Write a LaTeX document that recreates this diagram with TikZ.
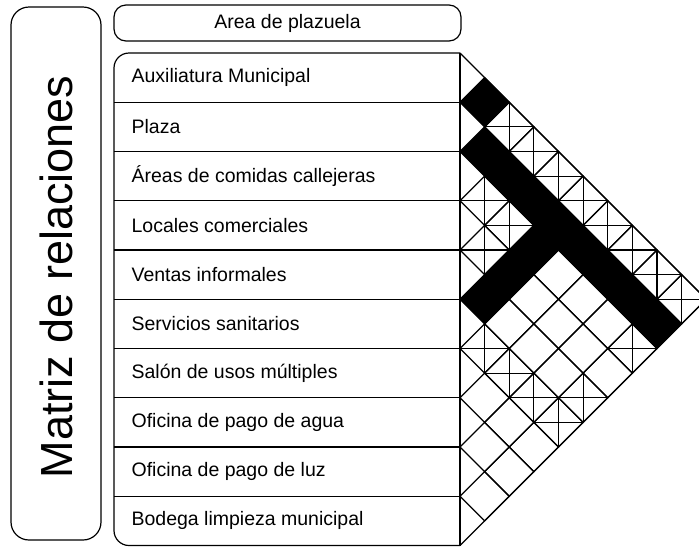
\documentclass[tikz,border=0pt]{standalone}
\usepackage{fontspec}
\setmainfont{Liberation Sans}
\begin{document}
\begin{tikzpicture}[x=1pt,y=-1pt,line width=1.2pt,
  lbl/.style={anchor=west,inner sep=0pt,font=\fontsize{19.5}{22}\selectfont},
  boxline/.style={draw=black,line width=1.2pt}]
\useasboundingbox (0,0) rectangle (699,547);
\def\u{24.625}
% left title box
\draw[boxline,rounded corners=18pt] (11,7) rectangle (101,540);
\node[rotate=90,inner sep=0pt,font=\fontsize{45}{50}\selectfont] (title) at (56,277) {Matriz de relaciones};
% top box
\draw[boxline,rounded corners=12pt] (114,5) rectangle (461,41);
\node[inner sep=0pt,font=\fontsize{19.5}{22}\selectfont] (area) at (287.5,23) {Area de plazuela};
% table
\draw[boxline,rounded corners=15pt] (460,53) -- (114,53) -- (114,545.5) -- (460,545.5);
\draw[boxline] (460,53) -- (460,545.5);
\foreach \k in {1,...,9} {
  \draw[boxline] (114,53+2*\k*\u) -- (460,53+2*\k*\u);
}
\foreach \t [count=\i] in {Auxiliatura Municipal,Plaza,Áreas de comidas callejeras,Locales comerciales,Ventas informales,Servicios sanitarios,Salón de usos múltiples,Oficina de pago de agua,Oficina de pago de luz,Bodega limpieza municipal} {
  \node[lbl] (r\i) at (131,53+2*\i*\u-\u) {\t};
}
% black cells
\foreach \i/\j in {1/2,2/3,2/4,2/5,2/6,2/7,2/8,2/9,2/10,3/6,4/6,5/6} {
  \pgfmathsetmacro\cx{460+(\j-\i)*\u}
  \pgfmathsetmacro\cy{53+(\i+\j-1)*\u}
  \fill[black] (\cx-\u,\cy) -- (\cx,\cy-\u) -- (\cx+\u,\cy) -- (\cx,\cy+\u) -- cycle;
}
% all diamond outlines
\foreach \i in {1,...,9} {
  \pgfmathtruncatemacro\ii{\i+1}
  \foreach \j in {\ii,...,10} {
    \pgfmathsetmacro\cx{460+(\j-\i)*\u}
    \pgfmathsetmacro\cy{53+(\i+\j-1)*\u}
    \draw (\cx-\u,\cy) -- (\cx,\cy-\u) -- (\cx+\u,\cy) -- (\cx,\cy+\u) -- cycle;
  }
}
% crossed cells
\foreach \i/\j in {1/3,1/4,1/5,1/6,1/7,1/8,1/9,1/10,3/4,3/5,3/10,4/5,5/10,6/7,6/8,6/9,6/10} {
  \pgfmathsetmacro\cx{460+(\j-\i)*\u}
  \pgfmathsetmacro\cy{53+(\i+\j-1)*\u}
  \draw (\cx-\u,\cy) -- (\cx+\u,\cy);
  \draw (\cx,\cy-\u) -- (\cx,\cy+\u);
}
% outer triangle
\draw[line join=miter] (460,53) -- (460+10*\u,53+10*\u) -- (460,545.5);
\end{tikzpicture}
\end{document}
